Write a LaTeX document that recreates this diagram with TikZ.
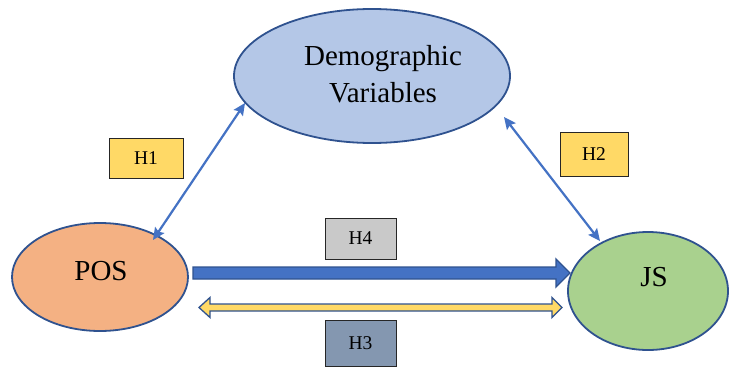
\documentclass[tikz,border=0pt]{standalone}
\usepackage{fontspec}
\setmainfont{Liberation Serif}
\usetikzlibrary{arrows.meta}
\definecolor{edge}{HTML}{2F528F}
\definecolor{blue1}{HTML}{4472C4}
\definecolor{demo}{HTML}{B4C7E7}
\definecolor{pos}{HTML}{F4B183}
\definecolor{js}{HTML}{A9D18E}
\definecolor{yel}{HTML}{FFD966}
\definecolor{grey1}{HTML}{C9C9C9}
\definecolor{slate}{HTML}{8497B0}
\begin{document}
\begin{tikzpicture}[x=1pt,y=-1pt,
  hbox/.style={draw=black!85, line width=0.9pt, inner sep=0pt, font=\fontsize{19.5}{22}\selectfont},
  link/.style={draw=blue1, line width=2.2pt, {Stealth[length=12pt,width=11pt,inset=2pt]}-{Stealth[length=12pt,width=11pt,inset=2pt]}},
  arrowshape/.style={draw=edge, line width=1.3pt, line join=miter},
  ellbody/.style={draw=edge, line width=1.8pt}
]
\useasboundingbox (0,0) rectangle (730,369);
\fill[white] (0,0) rectangle (730,369);
% ellipses
\draw[ellbody, fill=demo] (372,76) ellipse [x radius=138, y radius=67];
\node (demo) at (383,74) [align=center, font=\fontsize{29}{37}\selectfont] {Demographic\\Variables};
\draw[ellbody, fill=pos] (100,277) ellipse [x radius=88, y radius=54];
\node (pos) at (101,271) [font=\fontsize{29}{30}\selectfont] {POS};
\draw[ellbody, fill=js] (648,291) ellipse [x radius=80, y radius=59];
\node (js) at (654,277) [font=\fontsize{29}{30}\selectfont] {JS};
% boxes
\node (h1) [hbox, fill=yel, minimum width=74pt, minimum height=40pt] at (146,158) {H1};
\node (h2) [hbox, fill=yel, minimum width=68pt, minimum height=44pt] at (594,154) {H2};
\node (h4) [hbox, fill=grey1, minimum width=71pt, minimum height=41pt] at (360.5,238.5) {H4};
\node (h3) [hbox, fill=slate, minimum width=71pt, minimum height=46pt] at (360.5,343) {H3};
% thin links
\coordinate (p1) at (153,240);
\coordinate (d1) at (245,103);
\coordinate (d2) at (504,117);
\coordinate (j1) at (600,241);
\draw[link] (p1) -- (d1);
\draw[link] (d2) -- (j1);
% thick arrow POS -> JS
\coordinate (a0) at (193,273);
\coordinate (a1) at (570,273);
\filldraw[arrowshape, fill=blue1] ([yshift=-6]a0) -- ([xshift=-14,yshift=-6]a1) -- ([xshift=-14,yshift=-14]a1) -- (a1) -- ([xshift=-14,yshift=14]a1) -- ([xshift=-14,yshift=6]a1) -- ([yshift=6]a0) -- cycle;
% double arrow
\coordinate (b0) at (199,307.5);
\coordinate (b1) at (562,307.5);
\filldraw[arrowshape, fill=yel] (b0) -- ([xshift=11,yshift=-10]b0) -- ([xshift=11,yshift=-3.5]b0) -- ([xshift=-10,yshift=-3.5]b1) -- ([xshift=-10,yshift=-10]b1) -- (b1) -- ([xshift=-10,yshift=10]b1) -- ([xshift=-10,yshift=3.5]b1) -- ([xshift=11,yshift=3.5]b0) -- ([xshift=11,yshift=10]b0) -- cycle;
\end{tikzpicture}
\end{document}
